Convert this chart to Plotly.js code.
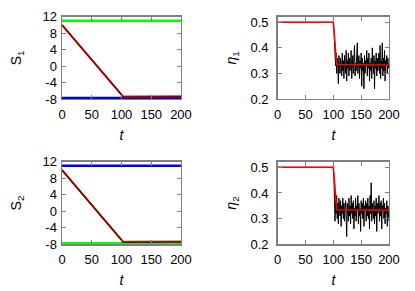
<!DOCTYPE html>
<html>
<head>
<meta charset="utf-8">
<script src="https://cdn.plot.ly/plotly-3.0.1.min.js"></script>
<style>html,body{margin:0;padding:0;background:#fff;}#plot{width:415px;height:291px;}</style>
</head>
<body>
<div id="plot"></div>
<script>
// ---- data ----
const tFlat = [0, 200];
const s1Green = [11.0, 11.0];
const s1Blue = [-7.8, -7.8];
const s2Blue = [11.0, 11.0];
const s2Green = [-7.8, -7.8];
const sTime = [0, 103, 200];
const sSim = [10.0, -7.5, -7.45];
const sTheory = [10.0, -7.4, -7.35];

const etaTheoryT = [0, 100, 102, 104, 106, 200];
const etaTheory = [0.5, 0.5, 0.45, 0.38, 0.335, 0.333];

const etaSimT = [0, 100,
  101, 102, 103, 104, 105, 106, 107, 108, 109, 110,
  111, 112, 113, 114, 115, 116, 117, 118, 119, 120,
  121, 122, 123, 124, 125, 126, 127, 128, 129, 130,
  131, 132, 133, 134, 135, 136, 137, 138, 139, 140,
  141, 142, 143, 144, 145, 146, 147, 148, 149, 150,
  151, 152, 153, 154, 155, 156, 157, 158, 159, 160,
  161, 162, 163, 164, 165, 166, 167, 168, 169, 170,
  171, 172, 173, 174, 175, 176, 177, 178, 179, 180,
  181, 182, 183, 184, 185, 186, 187, 188, 189, 190,
  191, 192, 193, 194, 195, 196, 197, 198, 199, 200];
const eta1Sim = [0.5, 0.5,
  0.47, 0.42, 0.36, 0.33, 0.38, 0.30, 0.36, 0.35, 0.26, 0.37,
  0.32, 0.30, 0.36, 0.34, 0.29, 0.38, 0.31, 0.35, 0.28, 0.37,
  0.33, 0.30, 0.39, 0.27, 0.35, 0.32, 0.38, 0.29, 0.36, 0.31,
  0.34, 0.39, 0.28, 0.33, 0.37, 0.30, 0.35, 0.41, 0.29, 0.34,
  0.31, 0.36, 0.42, 0.30, 0.33, 0.37, 0.28, 0.35, 0.32, 0.38,
  0.25, 0.36, 0.31, 0.34, 0.24, 0.37, 0.30, 0.35, 0.33, 0.39,
  0.29, 0.36, 0.32, 0.38, 0.27, 0.34, 0.31, 0.36, 0.28, 0.40,
  0.33, 0.30, 0.37, 0.24, 0.35, 0.32, 0.38, 0.29, 0.36, 0.31,
  0.34, 0.38, 0.30, 0.41, 0.28, 0.35, 0.32, 0.42, 0.29, 0.36,
  0.31, 0.39, 0.27, 0.35, 0.33, 0.37, 0.30, 0.36, 0.32, 0.34];
const eta2Sim = [0.5, 0.5,
  0.46, 0.40, 0.29, 0.37, 0.32, 0.39, 0.30, 0.36, 0.28, 0.38,
  0.33, 0.31, 0.37, 0.27, 0.35, 0.32, 0.38, 0.30, 0.36, 0.29,
  0.34, 0.37, 0.31, 0.23, 0.36, 0.33, 0.29, 0.38, 0.31, 0.35,
  0.28, 0.39, 0.32, 0.36, 0.30, 0.37, 0.26, 0.34, 0.31, 0.38,
  0.29, 0.35, 0.33, 0.39, 0.28, 0.36, 0.31, 0.34, 0.25, 0.37,
  0.32, 0.36, 0.30, 0.38, 0.27, 0.35, 0.33, 0.37, 0.29, 0.36,
  0.31, 0.38, 0.30, 0.35, 0.26, 0.39, 0.32, 0.44, 0.29, 0.36,
  0.33, 0.30, 0.37, 0.28, 0.35, 0.31, 0.38, 0.25, 0.36, 0.32,
  0.34, 0.39, 0.29, 0.36, 0.31, 0.37, 0.26, 0.35, 0.33, 0.38,
  0.30, 0.36, 0.28, 0.34, 0.32, 0.37, 0.27, 0.35, 0.31, 0.29];

const xTicks = [0, 50, 100, 150, 200];
const sTicks = [-8, -4, 0, 4, 8, 12];
const sTickText = ['-8', '-4', '0', '4', '8', '12'];
const etaTicks = [0.2, 0.3, 0.4, 0.5];
const etaTickText = ['0.2', '0.3', '0.4', '0.5'];

// ---- traces ----
const traces = [
  {x: tFlat, y: s1Green, xaxis: 'x', yaxis: 'y', mode: 'lines', line: {color: '#00ff00', width: 2.5}},
  {x: tFlat, y: s1Blue, xaxis: 'x', yaxis: 'y', mode: 'lines', line: {color: '#0000ff', width: 3}},
  {x: sTime, y: sTheory, xaxis: 'x', yaxis: 'y', mode: 'lines', line: {color: '#ff2020', width: 2}},
  {x: sTime, y: sSim, xaxis: 'x', yaxis: 'y', mode: 'lines', line: {color: '#800000', width: 1.5}},

  {x: etaSimT, y: eta1Sim, xaxis: 'x2', yaxis: 'y2', mode: 'lines', line: {color: '#000000', width: 1}},
  {x: etaTheoryT, y: etaTheory, xaxis: 'x2', yaxis: 'y2', mode: 'lines', line: {color: '#ff0000', width: 1.5}},

  {x: tFlat, y: s2Blue, xaxis: 'x3', yaxis: 'y3', mode: 'lines', line: {color: '#0000ff', width: 2.5}},
  {x: tFlat, y: s2Green, xaxis: 'x3', yaxis: 'y3', mode: 'lines', line: {color: '#00ff00', width: 3}},
  {x: sTime, y: sTheory, xaxis: 'x3', yaxis: 'y3', mode: 'lines', line: {color: '#a05010', width: 2}},
  {x: sTime, y: sSim, xaxis: 'x3', yaxis: 'y3', mode: 'lines', line: {color: '#800000', width: 1.5}},

  {x: etaSimT, y: eta2Sim, xaxis: 'x4', yaxis: 'y4', mode: 'lines', line: {color: '#000000', width: 1}},
  {x: etaTheoryT, y: etaTheory, xaxis: 'x4', yaxis: 'y4', mode: 'lines', line: {color: '#ff0000', width: 1.5}}
];

const font = {family: 'Liberation Sans, Arial, sans-serif', size: 13, color: '#000'};
const titleFont = {family: 'Liberation Sans, Arial, sans-serif', size: 14, color: '#000'};

function xax(domain, anchor) {
  return {domain: domain, anchor: anchor, range: [0, 200], tickvals: xTicks, ticktext: xTicks.map(String),
    ticks: 'inside', ticklen: 4, tickcolor: '#808080', showline: true, linecolor: '#808080', linewidth: 1.5,
    mirror: 'ticks', showgrid: false, zeroline: false, tickfont: font, ticklabelstandoff: 3,
    title: {text: '<i>t</i>', font: titleFont, standoff: 9}};
}
function yax(domain, anchor, range, tv, tt, label, lstand, tstand) {
  return {domain: domain, anchor: anchor, range: range, tickvals: tv, ticktext: tt,
    ticks: 'inside', ticklen: 4, tickcolor: '#808080', showline: true, linecolor: '#808080', linewidth: 1.5,
    mirror: 'ticks', showgrid: false, zeroline: false, tickfont: font, ticklabelstandoff: lstand,
    title: {text: label, font: titleFont, standoff: tstand}};
}

const layout = {
  width: 415, height: 291,
  margin: {l: 0, r: 0, t: 0, b: 0},
  paper_bgcolor: '#fff', plot_bgcolor: '#fff',
  showlegend: false,
  xaxis: xax([0.1494, 0.4361], 'y'),
  yaxis: yax([0.6598, 0.9426], 'x', [-8, 12], sTicks, sTickText, 'S<sub>1</sub>', 1, 17),
  xaxis2: xax([0.6692, 0.9373], 'y2'),
  yaxis2: yax([0.6598, 0.9426], 'x2', [0.2, 0.522], etaTicks, etaTickText, '<i>η</i><sub>1</sub>', 5, 10),
  xaxis3: xax([0.1494, 0.4361], 'y3'),
  yaxis3: yax([0.1605, 0.4443], 'x3', [-8, 12], sTicks, sTickText, 'S<sub>2</sub>', 1, 17),
  xaxis4: xax([0.6692, 0.9373], 'y4'),
  yaxis4: yax([0.1605, 0.4443], 'x4', [0.2, 0.522], etaTicks, etaTickText, '<i>η</i><sub>2</sub>', 5, 10)
};

Plotly.newPlot('plot', traces, layout, {staticPlot: true, displayModeBar: false});
</script>
</body>
</html>
